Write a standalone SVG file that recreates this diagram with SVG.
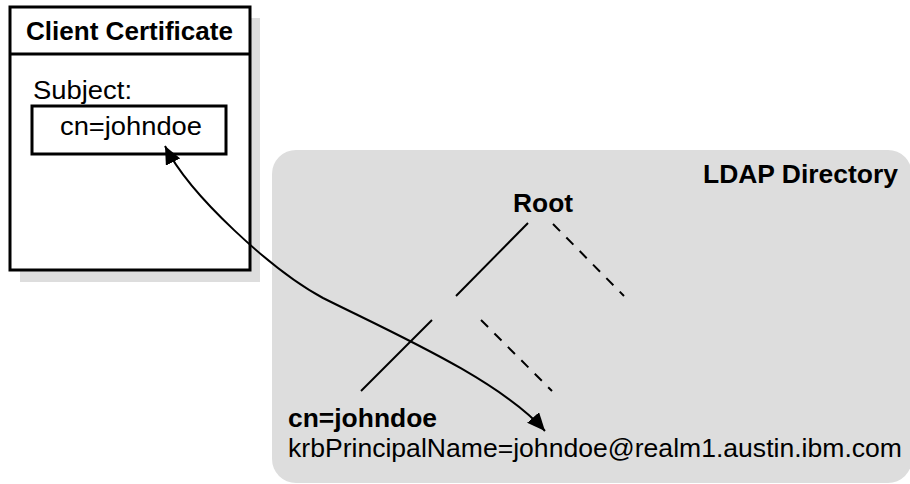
<svg xmlns="http://www.w3.org/2000/svg" width="910" height="484" viewBox="0 0 910 484">
<style>
text{font-family:"Liberation Sans",Arial,Helvetica,sans-serif;font-size:25px;fill:#000}
.b{font-weight:bold}
.box{fill:#fff;stroke:#000;stroke-width:3}
.shadow{fill:#dddddd}
.tree{stroke:#000;stroke-width:2;fill:none}
.dash{stroke-dasharray:10 9}
.conn{stroke:#000;stroke-width:2;fill:none}
</style>
<defs>
<marker id="ah" markerUnits="userSpaceOnUse" viewBox="0 0 18 16" refX="18" refY="8" markerWidth="18" markerHeight="16" orient="auto-start-reverse">
<path d="M0,0 L18,8 L0,16 Z" fill="#000"/>
</marker>
</defs>
<g id="ldap-directory">
<rect x="272" y="150" width="640" height="333" rx="24" fill="#dddddd"/>
<text class="b" x="703" y="183" textLength="195" lengthAdjust="spacingAndGlyphs">LDAP Directory</text>
</g>
<g id="client-certificate">
<rect class="shadow" x="20" y="18" width="240" height="264"/>
<rect class="box" x="10" y="7" width="240" height="263"/>
<line x1="10" y1="54" x2="250" y2="54" stroke="#000" stroke-width="3"/>
<text class="b" x="26" y="40" textLength="207" lengthAdjust="spacingAndGlyphs">Client Certificate</text>
<text x="33" y="99" textLength="99" lengthAdjust="spacingAndGlyphs">Subject:</text>
</g>
<g id="subject-cn">
<rect class="box" x="32" y="106" width="194" height="48"/>
<text x="60" y="135" textLength="142" lengthAdjust="spacingAndGlyphs">cn=johndoe</text>
</g>
<g id="root">
<text class="b" x="513" y="212" textLength="60" lengthAdjust="spacingAndGlyphs">Root</text>
</g>
<g id="entry-johndoe">
<text class="b" x="288" y="427" textLength="149" lengthAdjust="spacingAndGlyphs">cn=johndoe</text>
<text x="288" y="457" textLength="614" lengthAdjust="spacingAndGlyphs">krbPrincipalName=johndoe@realm1.austin.ibm.com</text>
</g>
<g id="connectors">
<line class="tree" x1="528" y1="223" x2="456" y2="296"/>
<line class="tree dash" x1="553" y1="224" x2="624" y2="296"/>
<line class="tree" x1="432" y1="320" x2="361" y2="391"/>
<line class="tree dash" x1="481" y1="320" x2="552" y2="391"/>
<path class="conn" d="M165,146 C190,196 273,271 323,298 C393,333 500,380 545,431" marker-start="url(#ah)" marker-end="url(#ah)"/>
</g>
</svg>
